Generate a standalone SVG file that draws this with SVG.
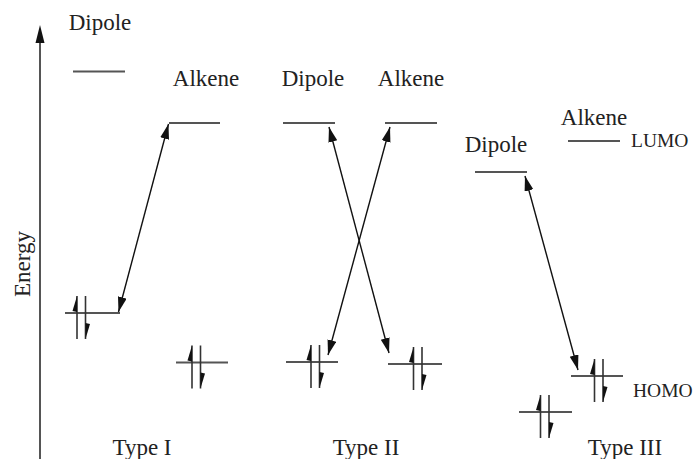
<svg xmlns="http://www.w3.org/2000/svg" xmlns:xlink="http://www.w3.org/1999/xlink" width="697" height="459" viewBox="0 0 697 459">
<style>
.t{font-family:"Liberation Serif","Times New Roman",serif;font-size:23px;fill:#222}
.s{font-family:"Liberation Serif","Times New Roman",serif;font-size:19.5px;fill:#222}
.lv{stroke:#555;stroke-width:2;fill:none}
.sp{stroke:#333;stroke-width:1.6;fill:none}
.hd{fill:#111;stroke:none}
.cn{stroke:#111;stroke-width:1.4;fill:none;marker-start:url(#ah);marker-end:url(#ah)}
</style>
<defs>
<marker id="ah" markerUnits="userSpaceOnUse" markerWidth="16" markerHeight="10" refX="15" refY="4.5" orient="auto-start-reverse">
<path d="M0,0 L15,4.5 L0,9 z" fill="#111"/>
</marker>
<g id="pair">
<line class="sp" x1="0" y1="-17" x2="0" y2="26"/>
<line class="sp" x1="8.5" y1="-17" x2="8.5" y2="26"/>
<polygon class="hd" points="0,-17 0,-1 -4.5,-2"/>
<polygon class="hd" points="8.5,26 8.5,10 13,11"/>
</g>
</defs>

<g id="axis">
<line x1="40" y1="38" x2="40" y2="459" stroke="#555" stroke-width="2"/>
<polygon points="40,25 35.5,43 44.5,43" fill="#111"/>
<text class="t" transform="translate(29.5,264) rotate(-90)" text-anchor="middle">Energy</text>
</g>

<g id="type1">
<g id="t1-dipole-lumo">
<text class="t" x="100" y="30" text-anchor="middle">Dipole</text>
<line class="lv" x1="73" y1="71.5" x2="125" y2="71.5"/>
</g>
<g id="t1-alkene-lumo">
<text class="t" x="206" y="86" text-anchor="middle">Alkene</text>
<line class="lv" x1="169" y1="123" x2="220" y2="123"/>
</g>
<g id="t1-dipole-homo">
<line class="lv" x1="65" y1="313" x2="120" y2="313"/>
<use xlink:href="#pair" x="77" y="313"/>
</g>
<g id="t1-alkene-homo">
<line class="lv" x1="176" y1="362.5" x2="228" y2="362.5"/>
<use xlink:href="#pair" x="192" y="362.5"/>
</g>
<text class="t" x="142" y="455" text-anchor="middle">Type I</text>
</g>

<g id="type2">
<g id="t2-dipole-lumo">
<text class="t" x="313" y="86" text-anchor="middle">Dipole</text>
<line class="lv" x1="283" y1="123" x2="335" y2="123"/>
</g>
<g id="t2-alkene-lumo">
<text class="t" x="411" y="86" text-anchor="middle">Alkene</text>
<line class="lv" x1="385" y1="123" x2="437" y2="123"/>
</g>
<g id="t2-dipole-homo">
<line class="lv" x1="286" y1="362" x2="338" y2="362"/>
<use xlink:href="#pair" x="311" y="362"/>
</g>
<g id="t2-alkene-homo">
<line class="lv" x1="388" y1="364" x2="442" y2="364"/>
<use xlink:href="#pair" x="413.5" y="364"/>
</g>
<text class="t" x="366" y="455" text-anchor="middle">Type II</text>
</g>

<g id="type3">
<g id="t3-alkene-lumo">
<text class="t" x="594" y="125" text-anchor="middle">Alkene</text>
<line class="lv" x1="568" y1="141" x2="620" y2="141"/>
<text class="s" x="631" y="147">LUMO</text>
</g>
<g id="t3-dipole-lumo">
<text class="t" x="496" y="152" text-anchor="middle">Dipole</text>
<line class="lv" x1="475" y1="172" x2="527" y2="172"/>
</g>
<g id="t3-alkene-homo">
<line class="lv" x1="571" y1="376" x2="623" y2="376"/>
<use xlink:href="#pair" x="594.5" y="376"/>
<text class="s" x="633" y="397">HOMO</text>
</g>
<g id="t3-dipole-homo">
<line class="lv" x1="519" y1="412" x2="572" y2="412"/>
<use xlink:href="#pair" x="540.5" y="412"/>
</g>
<text class="t" x="625" y="455" text-anchor="middle">Type III</text>
</g>

<g id="connectors">
<line class="cn" x1="118.5" y1="312" x2="168.5" y2="124"/>
<line class="cn" x1="329" y1="127" x2="389" y2="353"/>
<line class="cn" x1="390" y1="127" x2="328" y2="355"/>
<line class="cn" x1="525" y1="176" x2="578" y2="370"/>
</g>
</svg>
